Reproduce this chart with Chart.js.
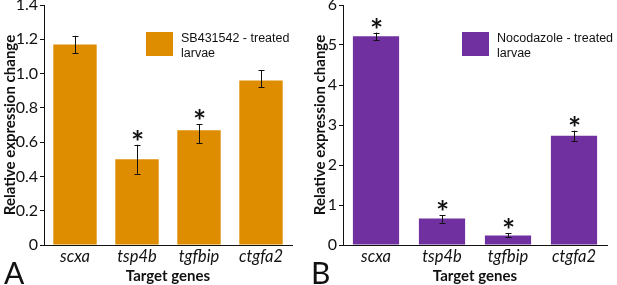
<!DOCTYPE html>
<html><head><meta charset="utf-8">
<script src="https://cdn.jsdelivr.net/npm/chart.js@4/dist/chart.umd.min.js"></script>
<style>
html,body{margin:0;padding:0;background:#fff;width:617px;height:285px;overflow:hidden;}
.panel{position:absolute;top:0;height:285px;}
.legend{position:absolute;font-family:"Liberation Sans",Arial,sans-serif;font-size:12.5px;line-height:15px;color:#111;}
.legend .box{position:absolute;left:0;top:0;width:27px;height:24px;}
.legend .txt{position:absolute;left:35px;top:-1px;white-space:nowrap;}
.letter{position:absolute;font-family:Lato,"Open Sans",sans-serif;font-size:30px;color:#111;line-height:30px;}
</style></head><body>
<div class="panel" style="left:0;width:310px;"><canvas id="cA" width="310" height="285"></canvas></div>
<div class="panel" style="left:310px;width:307px;"><canvas id="cB" width="307" height="285"></canvas></div>
<div class="legend" style="left:146px;top:32px;"><div class="box" style="background:#DF8D00"></div><div class="txt">SB431542 - treated<br>larvae</div></div>
<div class="legend" style="left:462px;top:32px;"><div class="box" style="background:#7030A0"></div><div class="txt">Nocodazole - treated<br>larvae</div></div>
<div class="letter" style="left:4px;top:257px;">A</div>
<div class="letter" style="left:311px;top:257px;">B</div>
<script>
const categories = ['scxa','tsp4b','tgfbip','ctgfa2'];
const sbValues   = [1.17, 0.50, 0.67, 0.96];
const sbErrLow   = [1.12, 0.415, 0.595, 0.92];
const sbErrHigh  = [1.22, 0.585, 0.705, 1.02];
const sbSig      = [false, true, true, false];
const sbTicks    = ['0','0.2','0.4','0.6','0.8','1.0','1.2','1.4'];
const nocValues  = [5.22, 0.66, 0.24, 2.73];
const nocErrLow  = [5.12, 0.56, 0.20, 2.60];
const nocErrHigh = [5.31, 0.75, 0.30, 2.86];
const nocSig     = [true, true, true, true];
const nocTicks   = ['0','1','2','3','4','5','6'];
const yTitle = 'Relative expression change';
const xTitle = 'Target genes';

Chart.defaults.font.family = 'Lato, "Open Sans", sans-serif';
Chart.defaults.color = '#111';

function errPlugin(lo, hi, sig){
  return {
    id:'err',
    afterDatasetsDraw(chart){
      const ctx = chart.ctx, x = chart.scales.x, y = chart.scales.y;
      ctx.save();
      ctx.strokeStyle = '#111'; ctx.lineWidth = 1;
      for(let i=0;i<lo.length;i++){
        const px = Math.round(x.getPixelForValue(i))+0.5;
        const yl = y.getPixelForValue(lo[i]), yh = y.getPixelForValue(hi[i]);
        ctx.beginPath();
        ctx.moveTo(px, yl); ctx.lineTo(px, yh);
        ctx.moveTo(px-3, Math.round(yl)+0.5); ctx.lineTo(px+3, Math.round(yl)+0.5);
        ctx.moveTo(px-3, Math.round(yh)+0.5); ctx.lineTo(px+3, Math.round(yh)+0.5);
        ctx.stroke();
        if(sig[i]){
          ctx.fillStyle = '#111';
          ctx.font = 'bold 31px Lato, sans-serif';
          ctx.textAlign = 'center'; ctx.textBaseline = 'alphabetic';
          ctx.fillText('*', px, yh + 8);
        }
      }
      ctx.restore();
    }
  };
}

function makeChart(id, values, lo, hi, sig, ticks, max, step, color, yWidth, padRight){
  return new Chart(document.getElementById(id), {
    type:'bar',
    data:{labels:categories, datasets:[{data:values, backgroundColor:color, barPercentage:0.7, categoryPercentage:1}]},
    options:{
      responsive:false, animation:false, devicePixelRatio:1,
      layout:{padding:{top:5,right:padRight,left:0,bottom:0}},
      plugins:{legend:{display:false}, tooltip:{enabled:false}},
      scales:{
        x:{
          grid:{display:false, drawOnChartArea:false, drawTicks:false, tickLength:0},
          border:{color:'#111', width:1},
          ticks:{font:{size:16.5, style:'italic'}, color:'#111', padding:2},
          title:{display:true, text:xTitle, font:{size:15, weight:'bold'}, color:'#111', padding:{top:0,bottom:0}},
          afterFit(s){ s.height = 40; s.paddingLeft=0; s.paddingRight=0; }
        },
        y:{
          min:0, max:max,
          grid:{drawOnChartArea:false, drawTicks:true, tickLength:4, color:'#111'},
          border:{color:'#111', width:1},
          ticks:{stepSize:step, font:{size:16}, color:'#111', padding:2,
                 callback:(v,i)=>ticks[i]},
          title:{display:true, text:yTitle, font:{size:15, weight:'bold'}, color:'#111', padding:{top:1,bottom:0}},
          afterFit(s){ s.width = yWidth; s.paddingTop=0; s.paddingBottom=0; }
        }
      }
    },
    plugins:[errPlugin(lo,hi,sig)]
  });
}
makeChart('cA', sbValues, sbErrLow, sbErrHigh, sbSig, sbTicks, 1.4, 0.2, '#DF8D00', 44, 18);
makeChart('cB', nocValues, nocErrLow, nocErrHigh, nocSig, nocTicks, 6, 1, '#7030A0', 33, 10);
</script>
</body></html>
